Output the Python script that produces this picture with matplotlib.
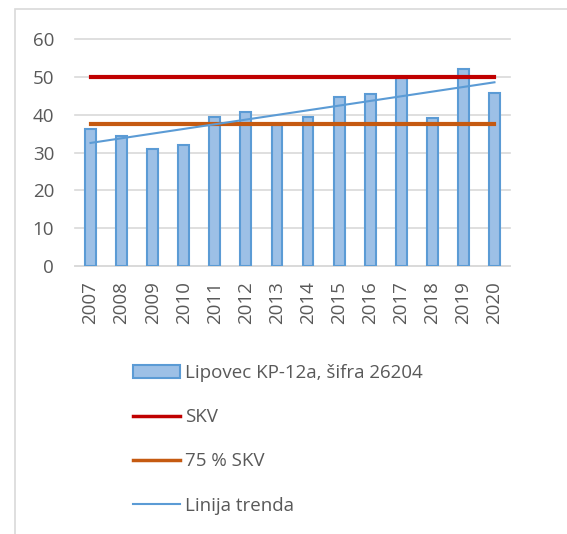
import numpy as np
import matplotlib
matplotlib.use("Agg")
import matplotlib.pyplot as plt
from matplotlib.patches import Rectangle

years = ["2007", "2008", "2009", "2010", "2011", "2012", "2013",
         "2014", "2015", "2016", "2017", "2018", "2019", "2020"]
values = [36.2, 34.4, 30.9, 32.0, 39.5, 40.7, 37.4,
          39.5, 44.8, 45.5, 49.8, 39.1, 52.1, 45.7]
skv = 50.0
skv75 = 37.5
series_label = "Lipovec KP-12a, šifra 26204"

plt.rcParams["font.family"] = ["Open Sans", "DejaVu Sans"]
grey = "#595959"
fs = 13.5

fig = plt.figure(figsize=(5.67, 5.34), dpi=100)
ax = fig.add_axes([75 / 567, 1 - 266 / 534, 435 / 567, 227 / 534])

x = np.arange(len(years))
bars = ax.bar(x, values, width=0.35, color="#9dc0e6", edgecolor="#5b9bd5",
              linewidth=1.5, label=series_label, zorder=3)
l1, = ax.plot([x[0], x[-1]], [skv, skv], color="#c00000", lw=3, label="SKV", zorder=4)
l2, = ax.plot([x[0], x[-1]], [skv75, skv75], color="#c55a11", lw=3, label="75 % SKV", zorder=4)

# linear trend of the measured values
k, n = np.polyfit(x, values, 1)
l3, = ax.plot(x[[0, -1]], k * x[[0, -1]] + n, color="#5b9bd5", lw=1.5,
              label="Linija trenda", zorder=5)

ax.set_xlim(-0.5, len(years) - 0.5)
ax.set_ylim(0, 60)
ax.set_yticks(range(0, 61, 10))
ax.set_xticks(x)
ax.set_xticklabels(years, rotation=90)
ax.tick_params(axis="y", length=0, pad=15, labelsize=fs, labelcolor=grey)
ax.tick_params(axis="x", length=0, pad=11, labelsize=fs, labelcolor=grey)
ax.grid(axis="y", color="#d9d9d9", lw=1.2, zorder=0)
for s in ["top", "right", "left"]:
    ax.spines[s].set_visible(False)
ax.spines["bottom"].set_color("#d9d9d9")
ax.spines["bottom"].set_linewidth(1.2)
for gl in ax.get_ygridlines():
    gl.set_clip_on(False)

leg = ax.legend([bars, l1, l2, l3], [series_label, "SKV", "75 % SKV", "Linija trenda"],
                loc="upper left", bbox_to_anchor=(116 / 567, 1 - 347 / 534),
                bbox_transform=fig.transFigure, frameon=False,
                fontsize=fs, labelcolor=grey, handlelength=2.5,
                handletextpad=0.3, labelspacing=1.4)
for h in leg.legend_handles[1:3]:
    h.set_linewidth(2.5)

fig.add_artist(Rectangle((15 / 567, -0.1), 1.2, 1 - 9 / 534 + 0.1,
                         transform=fig.transFigure, fill=False,
                         edgecolor="#d9d9d9", lw=1.2))

fig.savefig("out.png", dpi=100)
